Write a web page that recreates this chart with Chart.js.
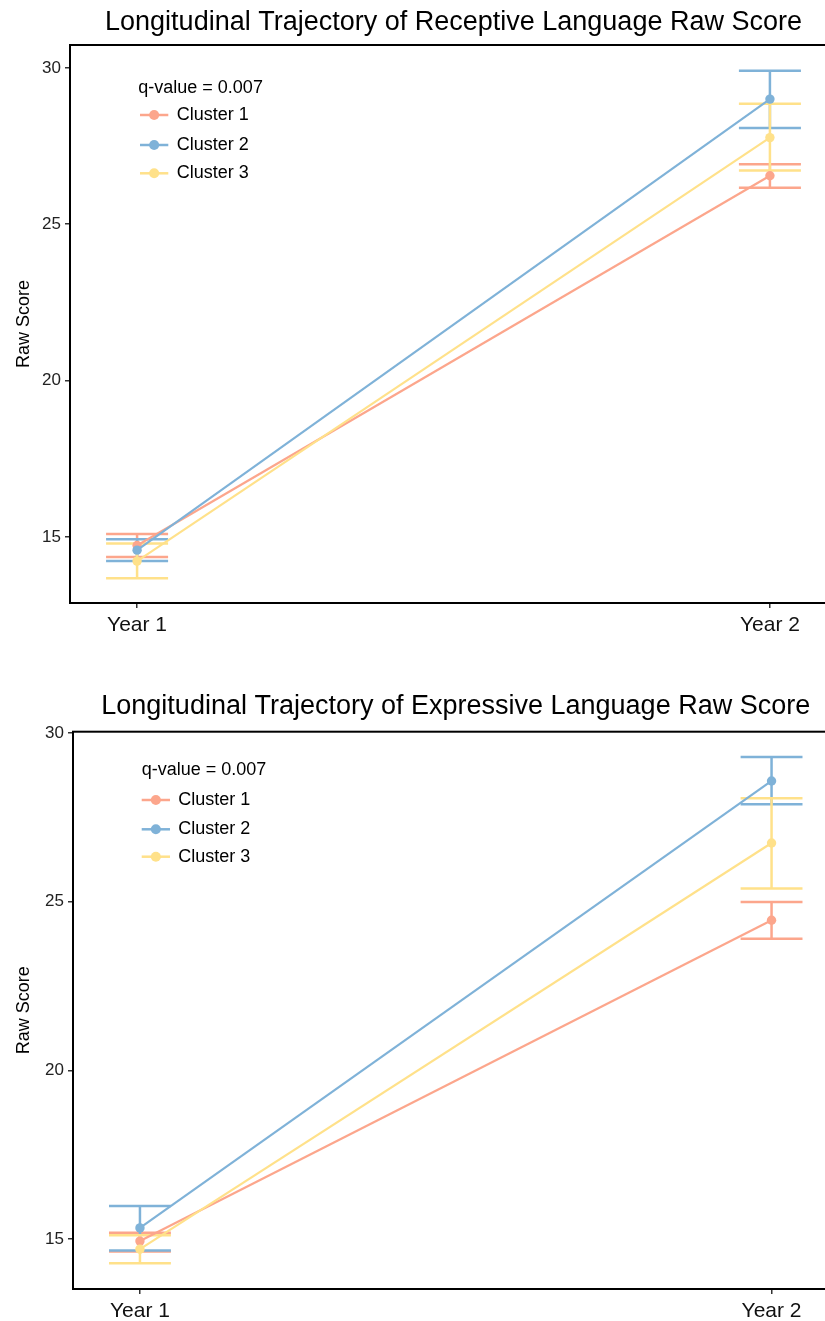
<!DOCTYPE html>
<html><head><meta charset="utf-8">
<script src="https://cdn.jsdelivr.net/npm/chart.js@4.4.1/dist/chart.umd.min.js"></script>
<style>
html,body{margin:0;padding:0;background:#fff;overflow:hidden;width:825px;height:1321px;}
.wrap{position:absolute;left:0;width:845px;}
#w1{top:0;height:655px;}
#w2{top:655px;height:666px;}
</style></head><body>
<div class="wrap" id="w1"><canvas id="c1"></canvas></div>
<div class="wrap" id="w2"><canvas id="c2"></canvas></div>
<script>
// ---- data ----
const categories = ['Year 1', 'Year 2'];
const clusterNames = ['Cluster 1', 'Cluster 2', 'Cluster 3'];
const yTickValues = [15, 20, 25, 30];
const qValueLabel = 'q-value = 0.007';
const yAxisTitle = 'Raw Score';
const receptiveTitle = 'Longitudinal Trajectory of Receptive Language Raw Score';
const expressiveTitle = 'Longitudinal Trajectory of Expressive Language Raw Score';

const receptiveMean1 = [14.73, 26.55];
const receptiveMean2 = [14.58, 29.00];
const receptiveMean3 = [14.23, 27.77];
const receptiveLower1 = [14.36, 26.17];
const receptiveLower2 = [14.23, 28.08];
const receptiveLower3 = [13.68, 26.72];
const receptiveUpper1 = [15.10, 26.92];
const receptiveUpper2 = [14.93, 29.91];
const receptiveUpper3 = [14.79, 28.85];

const expressiveMean1 = [14.94, 24.45];
const expressiveMean2 = [15.33, 28.58];
const expressiveMean3 = [14.70, 26.74];
const expressiveLower1 = [14.63, 23.90];
const expressiveLower2 = [14.66, 27.89];
const expressiveLower3 = [14.28, 25.39];
const expressiveUpper1 = [15.19, 24.99];
const expressiveUpper2 = [15.98, 29.29];
const expressiveUpper3 = [15.11, 28.07];

// ---- styles ----
const colors = ['#FCA68C', '#7FB2D8', '#FFE18A'];
const FONT = '"Liberation Sans", Arial, "DejaVu Sans", sans-serif';
const capHalfWidth = 0.049;

const boxPlugin = {
  id: 'panelBox',
  afterDraw(chart) {
    const {ctx, chartArea: a} = chart;
    ctx.save();
    ctx.strokeStyle = '#000';
    ctx.lineWidth = 2;
    ctx.strokeRect(a.left, a.top, a.right - a.left, a.bottom - a.top);
    ctx.restore();
  }
};

const insideLegend = {
  id: 'insideLegend',
  afterDatasetsDraw(chart, args, o) {
    const {ctx, chartArea: a} = chart;
    ctx.save();
    ctx.font = '18px ' + FONT;
    ctx.textBaseline = 'middle';
    ctx.textAlign = 'left';
    ctx.fillStyle = '#000';
    ctx.fillText(o.title, a.left + o.titleX, a.top + o.titleY);
    const items = chart.data.datasets.filter(d => d.legendItem);
    items.forEach((d, k) => {
      const y = a.top + o.rowY[k];
      ctx.strokeStyle = d.borderColor;
      ctx.lineWidth = 2.5;
      ctx.beginPath();
      ctx.moveTo(a.left + o.lineX0, y);
      ctx.lineTo(a.left + o.lineX1, y);
      ctx.stroke();
      ctx.fillStyle = d.borderColor;
      ctx.beginPath();
      ctx.arc(a.left + (o.lineX0 + o.lineX1) / 2, y, 5, 0, Math.PI * 2);
      ctx.fill();
      ctx.fillStyle = '#000';
      ctx.fillText(d.label, a.left + o.textX, y);
    });
    ctx.restore();
  }
};

function errorData(lower, upper) {
  const pts = [];
  lower.forEach((lo, i) => {
    const x = i + 1, hi = upper[i];
    pts.push({x: x - capHalfWidth, y: hi}, {x: x + capHalfWidth, y: hi}, {x: x, y: null},
             {x: x, y: hi}, {x: x, y: lo}, {x: x, y: null},
             {x: x - capHalfWidth, y: lo}, {x: x + capHalfWidth, y: lo}, {x: x, y: null});
  });
  return pts;
}

function build(id, title, means, lowers, uppers, g) {
  const datasets = [];
  means.forEach((m, k) => {
    datasets.push({
      label: clusterNames[k], legendItem: true,
      data: m.map((v, i) => ({x: i + 1, y: v})),
      borderColor: colors[k], backgroundColor: colors[k],
      borderWidth: 2.2, pointRadius: 4.7, pointHoverRadius: 4.7, pointBorderWidth: 0,
      order: 10 - k
    });
  });
  means.forEach((m, k) => {
    datasets.push({
      label: clusterNames[k] + ' SE',
      data: errorData(lowers[k], uppers[k]),
      borderColor: colors[k], backgroundColor: colors[k],
      borderWidth: 2.5, pointRadius: 0, spanGaps: false,
      order: 20 - k
    });
  });
  return new Chart(document.getElementById(id), {
    type: 'line',
    data: {datasets},
    plugins: [boxPlugin, insideLegend],
    options: {
      responsive: true, maintainAspectRatio: false, animation: false,
      layout: {padding: {left: 0, right: g.padRight, top: 0, bottom: 0}},
      plugins: {
        legend: {display: false},
        tooltip: {enabled: false},
        title: {display: true, text: title, fullSize: false, color: '#000',
                font: {family: FONT, size: 27, weight: 'normal'},
                padding: {top: g.titleTop, bottom: g.titleBottom}},
        insideLegend: g.legend
      },
      scales: {
        x: {
          type: 'linear', min: 0.894, max: 2.106,
          afterFit: s => { s.height = g.xHeight; },
          afterBuildTicks: s => { s.ticks = categories.map((c, i) => ({value: i + 1})); },
          ticks: {autoSkip: false, maxRotation: 0, padding: 5, color: '#111',
                  font: {family: FONT, size: 21},
                  callback: v => categories[Math.round(v) - 1]},
          grid: {display: true, drawOnChartArea: false, drawTicks: true, tickLength: 5, color: '#333', lineWidth: 1.5},
          border: {display: false}
        },
        y: {
          type: 'linear', min: g.yMin, max: g.yMax,
          afterFit: s => { s.width = g.yWidth; },
          afterBuildTicks: s => { s.ticks = yTickValues.filter(v => v >= g.yMin && v <= g.yMax).map(v => ({value: v})); },
          ticks: {padding: 4, color: '#222', font: {family: FONT, size: 17}},
          grid: {display: true, drawOnChartArea: false, drawTicks: true, tickLength: 5, color: '#333', lineWidth: 1.5},
          border: {display: false},
          title: {display: true, text: yAxisTitle, color: '#000', font: {family: FONT, size: 18},
                  padding: {top: 13, bottom: 0}}
        }
      }
    }
  });
}

build('c1', receptiveTitle,
  [receptiveMean1, receptiveMean2, receptiveMean3],
  [receptiveLower1, receptiveLower2, receptiveLower3],
  [receptiveUpper1, receptiveUpper2, receptiveUpper3],
  {padRight: 8, titleTop: 6.1, titleBottom: 6.5, xHeight: 52, yWidth: 70, yMin: 12.89, yMax: 30.73,
   legend: {title: qValueLabel, titleX: 68.3, titleY: 43, rowY: [70, 100, 128.3], lineX0: 70, lineX1: 98.3, textX: 106.7}});

build('c2', expressiveTitle,
  [expressiveMean1, expressiveMean2, expressiveMean3],
  [expressiveLower1, expressiveLower2, expressiveLower3],
  [expressiveUpper1, expressiveUpper2, expressiveUpper3],
  {padRight: 6.5, titleTop: 35.4, titleBottom: 8.9, xHeight: 32, yWidth: 73, yMin: 13.52, yMax: 30.04,
   legend: {title: qValueLabel, titleX: 68.7, titleY: 38.3, rowY: [68.3, 97.6, 125], lineX0: 68.7, lineX1: 97, textX: 105.3}});
</script>
</body></html>
